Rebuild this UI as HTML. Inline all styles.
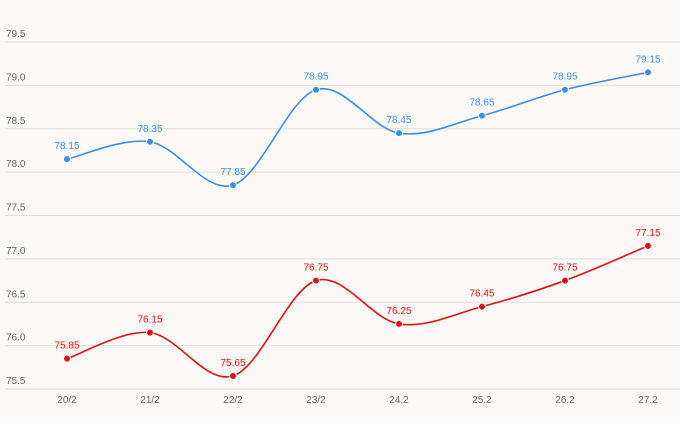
<!DOCTYPE html><html><head><meta charset="utf-8"><style>body{margin:0;background:#fdf9f6;}svg{display:block;font-family:"Liberation Sans",sans-serif;}</style></head><body>
<svg id="c" width="680" height="423" viewBox="0 0 680 423"></svg>
<script>
var s=document.getElementById('c'),h='';
function Y(v){return 42+(79.5-v)*86.75;}
var xs=[67,150,233,316,399,482,565,648],lab=['20/2','21/2','22/2','23/2','24.2','25.2','26.2','27.2'];
for(var i=0;i<9;i++){var v=79.5-i*0.5,y=Y(v);h+='<line x1="5" x2="680" y1="'+y+'" y2="'+y+'" stroke="#e2dedb" stroke-width="1"/>';h+='<text x="6" y="'+(y-5)+'" font-size="10" fill="#666">'+v.toFixed(1)+'</text>';}
lab.forEach(function(l,i){h+='<text x="'+xs[i]+'" y="403" font-size="10" fill="#666" text-anchor="middle">'+l+'</text>';});
function ser(d,c){var p=d.map(function(v,i){return [xs[i],Y(v)];});var path='M'+p[0][0]+','+p[0][1];
for(var i=0;i<p.length-1;i++){var p0=p[i-1]||p[i],p1=p[i],p2=p[i+1],p3=p[i+2]||p2,t=6;
path+=' C'+(p1[0]+(p2[0]-p0[0])/t)+','+(p1[1]+(p2[1]-p0[1])/t)+' '+(p2[0]-(p3[0]-p1[0])/t)+','+(p2[1]-(p3[1]-p1[1])/t)+' '+p2[0]+','+p2[1];}
h+='<path d="'+path+'" fill="none" stroke="'+c+'" stroke-width="1.6"/>';
p.forEach(function(q,i){h+='<circle cx="'+q[0]+'" cy="'+q[1]+'" r="3.5" fill="'+c+'" stroke="#fff" stroke-width="1"/>';h+='<text x="'+q[0]+'" y="'+(q[1]-10)+'" font-size="10" fill="'+c+'" text-anchor="middle">'+d[i].toFixed(2)+'</text>';});}
ser([78.15,78.35,77.85,78.95,78.45,78.65,78.95,79.15],'#3a8ee6');
ser([75.85,76.15,75.65,76.75,76.25,76.45,76.75,77.15],'#e01010');
s.innerHTML=h;
</script></body></html>
